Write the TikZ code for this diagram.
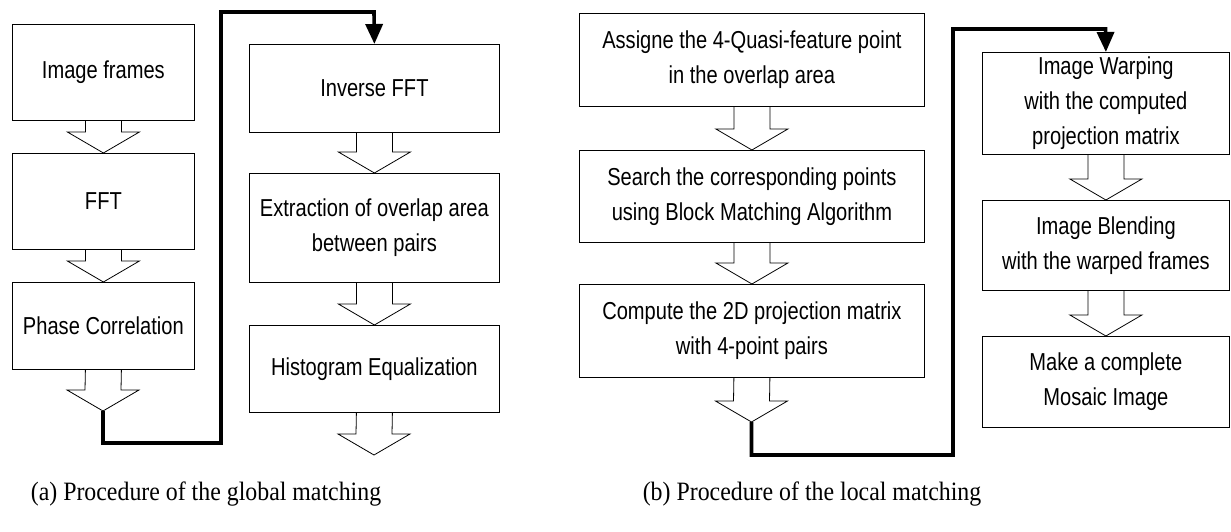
\documentclass[tikz,border=0pt]{standalone}
\usepackage{fontspec}
\setmainfont{Liberation Serif}
\newfontfamily\boxfont[FakeStretch=0.82]{Liberation Sans}
\newfontfamily\capfont[FakeStretch=0.9]{Liberation Serif}
\usetikzlibrary{arrows.meta,calc}
\tikzset{
  stepbox/.style={draw, line width=0.8pt, rectangle, inner sep=0pt, align=center,
    anchor=north west, font=\boxfont\fontsize{24.5}{35}\selectfont},
  barrow/.style={draw, line width=0.8pt, line join=miter},
  thickconn/.style={line width=3.6pt, -{Triangle[length=20pt,width=17pt]}},
  caption/.style={anchor=base, font=\capfont\fontsize{26.5}{30}\selectfont}
}
\newcommand\blockarr[2]{\draw[barrow] ($(#1.south)+(-18,0)$) -- ($(#2)+(-18,-21)$) -- ($(#2)+(-36,-21)$) -- (#2) -- ($(#2)+(36,-21)$) -- ($(#2)+(18,-21)$) -- ($(#1.south)+(18,0)$);}
\begin{document}
\begin{tikzpicture}[x=1pt,y=-1pt]
\useasboundingbox (0,0) rectangle (1231,532);
% (a) left column
\node[stepbox, minimum width=182pt, minimum height=96pt] (a1) at (12,24) {Image frames};
\node[stepbox, minimum width=182pt, minimum height=96pt] (a2) at (12,153) {FFT};
\node[stepbox, minimum width=182pt, minimum height=87pt] (a3) at (12,282) {Phase Correlation};
\coordinate (ta) at (103,411);
\blockarr{a1}{a2.north}
\blockarr{a2}{a3.north}
\blockarr{a3}{ta}
% (a) right column
\node[stepbox, minimum width=250pt, minimum height=88pt] (b1) at (249,44) {Inverse FFT};
\node[stepbox, minimum width=250pt, minimum height=109pt] (b2) at (249,173) {Extraction of overlap area\\between pairs};
\node[stepbox, minimum width=250pt, minimum height=87pt] (b3) at (249,325) {Histogram Equalization};
\coordinate (tb) at (374,455);
\blockarr{b1}{b2.north}
\blockarr{b2}{b3.north}
\blockarr{b3}{tb}
% connector (a)
\coordinate (ja) at (221,443);
\coordinate (ka) at (374,12);
\draw[thickconn] (ta) |- (ja) |- (ka) -- (b1.north);
% (b) left column
\node[stepbox, minimum width=345pt, minimum height=93pt] (c1) at (579,13) {Assigne the 4-Quasi-feature point\\in the overlap area};
\node[stepbox, minimum width=345pt, minimum height=92pt] (c2) at (579,150) {Search the corresponding points\\using Block Matching Algorithm};
\node[stepbox, minimum width=345pt, minimum height=93pt] (c3) at (579,284) {Compute the 2D projection matrix\\with 4-point pairs};
\coordinate (tc) at (751.5,422);
\blockarr{c1}{c2.north}
\blockarr{c2}{c3.north}
\blockarr{c3}{tc}
% (b) right column
\node[stepbox, minimum width=247pt, minimum height=102pt] (d1) at (982,52) {Image Warping\\with the computed\\projection matrix};
\node[stepbox, minimum width=247pt, minimum height=90pt] (d2) at (982,200) {Image Blending\\with the warped frames};
\node[stepbox, minimum width=247pt, minimum height=91pt] (d3) at (982,336) {Make a complete\\Mosaic Image};
\blockarr{d1}{d2.north}
\blockarr{d2}{d3.north}
% connector (b)
\coordinate (jb) at (953,455);
\coordinate (kb) at (1105.5,29);
\draw[thickconn] (tc) |- (jb) |- (kb) -- (d1.north);
% captions
\node[caption] (capa) at (206,500) {(a) Procedure of the global matching};
\node[caption] (capb) at (812,500) {(b) Procedure of the local matching};
\end{tikzpicture}
\end{document}
